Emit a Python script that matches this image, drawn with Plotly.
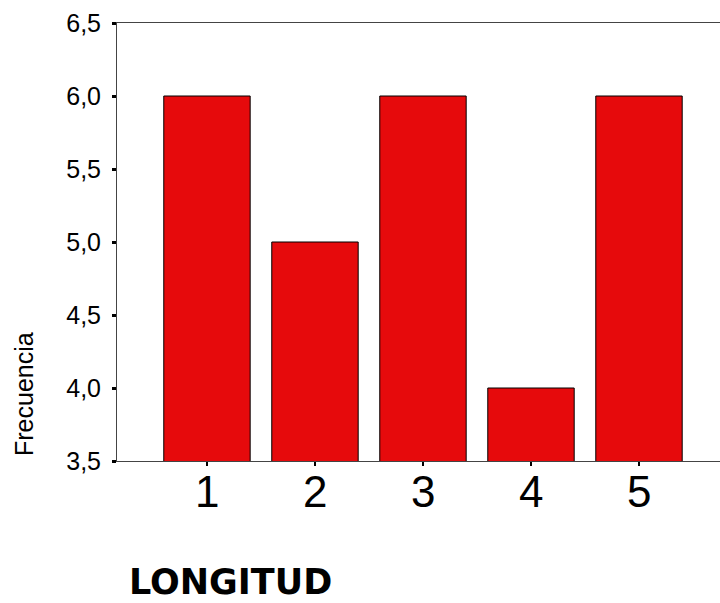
import plotly.graph_objects as go

categories = [1, 2, 3, 4, 5]
frecuencia = [6, 5, 6, 4, 6]
y_ticks = [3.5, 4.0, 4.5, 5.0, 5.5, 6.0, 6.5]

W, H = 720, 603
L, R, T, B = 117, 0, 23, 142
pw, ph = W - L - R, H - T - B

def px(x):
    return (x - L) / pw

def py(y):
    return (H - B - y) / ph

fig = go.Figure(go.Bar(
    x=categories, y=frecuencia,
    marker=dict(color="#E60A0C", line=dict(color="#000000", width=1)),
    width=0.8,
))

annotations = [
    dict(text=str(c), xref="x", yref="paper", x=c, y=py(492),
         xanchor="center", yanchor="middle", showarrow=False,
         font=dict(size=44))
    for c in categories
]
annotations += [
    dict(text="Frecuencia", xref="paper", yref="paper",
         x=px(24), y=py(394), xanchor="center", yanchor="middle",
         textangle=-90, showarrow=False, font=dict(size=25)),
    dict(text="<b>LONGITUD</b>", xref="paper", yref="paper",
         x=px(127), y=py(582), xanchor="left", yanchor="middle",
         showarrow=False,
         font=dict(size=35, family="DejaVu Sans, sans-serif")),
]

fig.update_layout(
    width=W, height=H,
    margin=dict(l=L, r=R, t=T, b=B),
    paper_bgcolor="white", plot_bgcolor="white",
    separators=",.",
    showlegend=False,
    font=dict(family="Liberation Sans, Arial, sans-serif", color="#000000"),
    xaxis=dict(
        range=[0.167, 5.75], tickmode="array", tickvals=categories,
        showticklabels=False, ticks="outside", ticklen=4, tickwidth=2,
        tickcolor="#000", showline=True, linecolor="#444", linewidth=1,
        mirror=True, showgrid=False, zeroline=False,
    ),
    yaxis=dict(
        range=[3.5, 6.5], tickmode="array", tickvals=y_ticks,
        tickformat=".1f", tickfont=dict(size=25), ticklabelstandoff=6,
        ticks="outside", ticklen=4, tickwidth=3, tickcolor="#000",
        showline=True, linecolor="#444", linewidth=1,
        showgrid=False, zeroline=False,
    ),
    annotations=annotations,
)

fig.write_html("out.html", config={"displayModeBar": False},
               post_script="document.body.style.margin='0';")
